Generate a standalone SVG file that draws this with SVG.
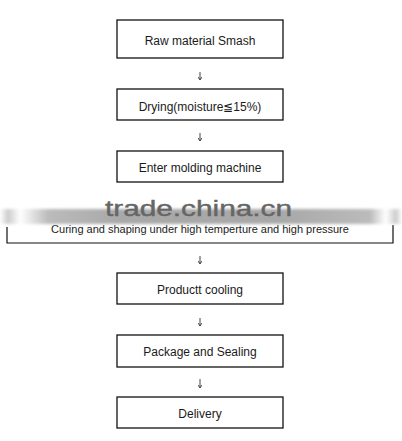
<svg xmlns="http://www.w3.org/2000/svg" width="402" height="441" viewBox="0 0 402 441">
<defs>
<style>
.box{fill:#fff;stroke:#111;stroke-width:1.3}
.lbl{font-family:"Liberation Sans",Arial,sans-serif;font-size:12px;fill:#1a1a1a;text-anchor:middle}
.con{stroke:#444;stroke-width:1;fill:none}
</style>
<marker id="ah" markerWidth="4" markerHeight="4" refX="3" refY="2" orient="auto" markerUnits="userSpaceOnUse">
<path d="M0,0 L3,2 L0,4" fill="none" stroke="#444" stroke-width="1"/>
</marker>
<linearGradient id="band" x1="0" x2="1" y1="0" y2="0">
<stop offset="0" stop-color="#fff"/>
<stop offset="0.02" stop-color="#ccc"/>
<stop offset="0.05" stop-color="#fff"/>
<stop offset="0.12" stop-color="#bbb"/>
<stop offset="0.3" stop-color="#a8a8a8"/>
<stop offset="0.7" stop-color="#a8a8a8"/>
<stop offset="0.92" stop-color="#bbb"/>
<stop offset="0.96" stop-color="#fff"/>
<stop offset="0.985" stop-color="#ccc"/>
<stop offset="1" stop-color="#fff"/>
</linearGradient>
<filter id="blur" x="-5%" y="-50%" width="110%" height="200%">
<feGaussianBlur stdDeviation="1.5"/>
</filter>
</defs>
<rect width="402" height="441" fill="#fff"/>
<g id="n1"><rect class="box" x="117" y="20" width="166" height="38"/><text class="lbl" x="200" y="45">Raw material Smash</text></g>
<g id="n2"><rect class="box" x="117" y="89" width="166" height="31"/><text class="lbl" x="200" y="111">Drying(moisture≦15%)</text></g>
<g id="n3"><rect class="box" x="117" y="151" width="166" height="31"/><text class="lbl" x="200" y="172">Enter molding machine</text></g>
<g id="n4">
<path d="M7,227 V243 H393 V225" fill="none" stroke="#111" stroke-width="1.2"/>
<text x="200" y="233" style="font-family:'Liberation Sans',Arial,sans-serif;font-size:11px;fill:#222;text-anchor:middle">Curing and shaping under high temperture and high pressure</text>
</g>
<g id="watermark">
<rect x="0" y="209" width="402" height="15" fill="url(#band)" filter="url(#blur)"/>
<text x="105" y="216" textLength="187" lengthAdjust="spacingAndGlyphs" style="font-family:'Liberation Sans',Arial,sans-serif;font-size:22px;fill:#666;stroke:#666;stroke-width:0.4">trade.china.cn</text>
</g>
<g id="n5"><rect class="box" x="117" y="273" width="166" height="31"/><text class="lbl" x="200" y="294">Productt cooling</text></g>
<g id="n6"><rect class="box" x="117" y="335" width="166" height="32"/><text class="lbl" x="200" y="356">Package and Sealing</text></g>
<g id="n7"><rect class="box" x="117" y="397" width="166" height="31"/><text class="lbl" x="200" y="418">Delivery</text></g>
<g id="connectors">
<line class="con" x1="200" y1="72" x2="200" y2="80" marker-end="url(#ah)"/>
<line class="con" x1="200" y1="133" x2="200" y2="141" marker-end="url(#ah)"/>
<line class="con" x1="200" y1="256" x2="200" y2="264" marker-end="url(#ah)"/>
<line class="con" x1="200" y1="318" x2="200" y2="326" marker-end="url(#ah)"/>
<line class="con" x1="200" y1="379" x2="200" y2="388" marker-end="url(#ah)"/>
</g>
</svg>
